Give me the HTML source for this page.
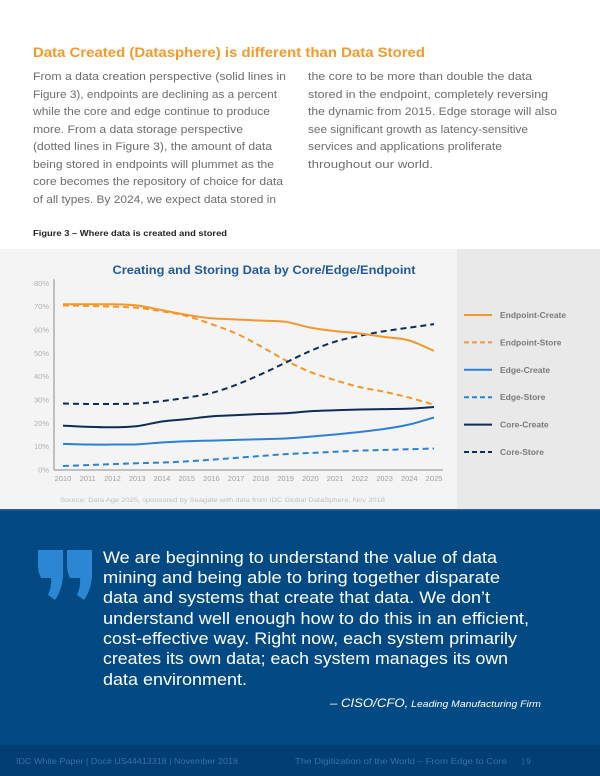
<!DOCTYPE html>
<html><head><meta charset="utf-8"><style>
html,body{margin:0;padding:0;background:#fff;}
svg{display:block;}
text{font-family:"Liberation Sans",Arial,sans-serif;}
</style></head><body>
<svg width="600" height="776" viewBox="0 0 600 776" xmlns="http://www.w3.org/2000/svg">
<rect x="0" y="0" width="600" height="776" fill="#ffffff"/>
<text x="33" y="57" font-size="14" font-weight="bold" fill="#f39a2c" textLength="392" lengthAdjust="spacingAndGlyphs">Data Created (Datasphere) is different than Data Stored</text>
<g font-size="11" fill="#6d6d6d">
<text x="33" y="80" textLength="253" lengthAdjust="spacingAndGlyphs">From a data creation perspective (solid lines in</text>
<text x="33" y="98" textLength="244" lengthAdjust="spacingAndGlyphs">Figure 3), endpoints are declining as a percent</text>
<text x="33" y="115" textLength="237" lengthAdjust="spacingAndGlyphs">while the core and edge continue to produce</text>
<text x="33" y="133" textLength="210" lengthAdjust="spacingAndGlyphs">more. From a data storage perspective</text>
<text x="33" y="150" textLength="239" lengthAdjust="spacingAndGlyphs">(dotted lines in Figure 3), the amount of data</text>
<text x="33" y="168" textLength="241" lengthAdjust="spacingAndGlyphs">being stored in endpoints will plummet as the</text>
<text x="33" y="185" textLength="250" lengthAdjust="spacingAndGlyphs">core becomes the repository of choice for data</text>
<text x="33" y="203" textLength="243" lengthAdjust="spacingAndGlyphs">of all types. By 2024, we expect data stored in</text>
<text x="308" y="80" textLength="224" lengthAdjust="spacingAndGlyphs">the core to be more than double the data</text>
<text x="308" y="98" textLength="240" lengthAdjust="spacingAndGlyphs">stored in the endpoint, completely reversing</text>
<text x="308" y="115" textLength="249" lengthAdjust="spacingAndGlyphs">the dynamic from 2015. Edge storage will also</text>
<text x="308" y="133" textLength="220" lengthAdjust="spacingAndGlyphs">see significant growth as latency-sensitive</text>
<text x="308" y="150" textLength="194" lengthAdjust="spacingAndGlyphs">services and applications proliferate</text>
<text x="308" y="168" textLength="125" lengthAdjust="spacingAndGlyphs">throughout our world.</text>
</g>
<text x="33" y="236" font-size="8" font-weight="bold" fill="#222" textLength="194" lengthAdjust="spacingAndGlyphs">Figure 3 – Where data is created and stored</text>

<rect x="0" y="249" width="457" height="260" fill="#f4f4f4"/>
<rect x="457" y="249" width="143" height="260" fill="#e9e9e9"/>
<text x="264" y="274" text-anchor="middle" font-size="12" font-weight="bold" fill="#1f5a9a" textLength="303" lengthAdjust="spacingAndGlyphs">Creating and Storing Data by Core/Edge/Endpoint</text>
<g id="chart"></g>
<text x="60" y="502" font-size="6.5" fill="#c0c0c0" textLength="325" lengthAdjust="spacingAndGlyphs">Source: Data Age 2025, sponsored by Seagate with data from IDC Global DataSphere, Nov 2018</text>

<rect x="0" y="509" width="600" height="236" fill="#034a85"/>
<rect x="0" y="509" width="600" height="1.5" fill="#2a5f95"/>
<g fill="#2b87d3">
<path d="M38 550 H63 V576 Q62 590 55 600 L48 595 Q52 586 51 578 H41 Q38 572 38 565 Z"/>
<path d="M67 550 H92 V576 Q91 590 84 600 L77 595 Q81 586 80 578 H70 Q67 572 67 565 Z"/>
</g>
<g font-size="16.5" fill="#ffffff">
<text x="103" y="563" textLength="394" lengthAdjust="spacingAndGlyphs">We are beginning to understand the value of data</text>
<text x="103" y="583" textLength="397" lengthAdjust="spacingAndGlyphs">mining and being able to bring together disparate</text>
<text x="103" y="603" textLength="387" lengthAdjust="spacingAndGlyphs">data and systems that create that data. We don’t</text>
<text x="103" y="624" textLength="426" lengthAdjust="spacingAndGlyphs">understand well enough how to do this in an efficient,</text>
<text x="103" y="644" textLength="414" lengthAdjust="spacingAndGlyphs">cost-effective way. Right now, each system primarily</text>
<text x="103" y="664" textLength="405" lengthAdjust="spacingAndGlyphs">creates its own data; each system manages its own</text>
<text x="103" y="685" textLength="144" lengthAdjust="spacingAndGlyphs">data environment.</text>
</g>
<text x="330" y="707" font-style="italic" fill="#ffffff" textLength="211" lengthAdjust="spacingAndGlyphs"><tspan font-size="12">– CISO/CFO,</tspan><tspan font-size="9.5"> Leading Manufacturing Firm</tspan></text>

<rect x="0" y="745" width="600" height="31" fill="#003e74"/>
<g font-size="8" fill="#3a6fa8">
<text x="16" y="764" textLength="222" lengthAdjust="spacingAndGlyphs">IDC White Paper  |  Doc# US44413318  |  November 2018</text>
<text x="295" y="764" textLength="212" lengthAdjust="spacingAndGlyphs">The Digitization of the World – From Edge to Core</text>
<text x="522" y="764">|   9</text>
</g>
</svg>
<script>
const years = [2010,2011,2012,2013,2014,2015,2016,2017,2018,2019,2020,2021,2022,2023,2024,2025];
const yTicks = [0,10,20,30,40,50,60,70,80];
const endpointCreate = [71,71,71,70.5,68.5,66.5,65,64.5,64,63.5,61,59.5,58.5,57,55.5,51];
const endpointStore = [70.5,70.3,70,69.5,68,66,62.5,58.5,53,47,42,38.5,35.5,33.5,31,28];
const edgeCreate = [11.2,10.9,10.9,11,11.8,12.3,12.6,12.9,13.2,13.5,14.3,15.2,16.3,17.6,19.5,22.5];
const edgeStore = [1.7,2.1,2.5,2.9,3.2,3.7,4.4,5.2,6,6.8,7.3,7.8,8.3,8.6,8.9,9.2];
const coreCreate = [19,18.5,18.3,18.8,20.8,21.8,23,23.5,24,24.3,25.2,25.6,25.9,26.1,26.3,27];
const coreStore = [28.5,28.3,28.3,28.5,29.5,31,33,36.5,41,46,51,55,57.5,59.5,61,62.5];
const seriesNames = ["Endpoint-Create","Endpoint-Store","Edge-Create","Edge-Store","Core-Create","Core-Store"];

const NS="http://www.w3.org/2000/svg";
const g=document.getElementById('chart');
const x0=63,x1=434,y0=470,y1=283.3;
const xs=i=>x0+(x1-x0)*i/(years.length-1);
const ys=v=>y0-(y0-y1)*v/80;
function mk(t,a){const e=document.createElementNS(NS,t);for(const k in a)e.setAttribute(k,a[k]);g.appendChild(e);return e;}
let ax=mk('line',{x1:54,y1:y1-4,x2:54,y2:y0,stroke:'#8a8a8a','stroke-width':1});


ax=mk('line',{x1:54,y1:y0,x2:443,y2:y0,stroke:'#8a8a8a','stroke-width':1});


yTicks.forEach(v=>{const t=mk('text',{x:49,y:ys(v)+2.5,'text-anchor':'end','font-size':7.5,fill:'#b0b0b0'});t.textContent=v+'%';

});
years.forEach((y,i)=>{const t=mk('text',{x:xs(i),y:481,'text-anchor':'middle','font-size':7.5,fill:'#a0a0a0'});t.textContent=y;

});
function path(vals){const p=vals.map((v,i)=>[xs(i),ys(v)]);let d='M'+p[0][0]+' '+p[0][1];
for(let i=0;i<p.length-1;i++){const a=p[i-1]||p[i],b=p[i],c=p[i+1],e=p[i+2]||c;
d+=` C${b[0]+(c[0]-a[0])/6} ${b[1]+(c[1]-a[1])/6} ${c[0]-(e[0]-b[0])/6} ${c[1]-(e[1]-b[1])/6} ${c[0]} ${c[1]}`;}return d;}
const defs=[[endpointStore,'#f5962b',true],[edgeStore,'#2b82d3',true],[edgeCreate,'#2b82d3',false],[coreCreate,'#0d2d55',false],[coreStore,'#0d2d55',true],[endpointCreate,'#f5962b',false]];
const names=['endpoint-store-line','edge-store-line','edge-create-line','core-create-line','core-store-line','endpoint-create-line'];
defs.forEach((s,k)=>{const a={d:path(s[0]),fill:'none',stroke:s[1],'stroke-width':2};if(s[2])a['stroke-dasharray']='6 4';
const e=mk('path',a);

});
const leg=[['#f5962b',false],['#f5962b',true],['#2b82d3',false],['#2b82d3',true],['#0d2d55',false],['#0d2d55',true]];
seriesNames.forEach((n,i)=>{const y=315+i*27.4;const a={x1:464,y1:y,x2:492,y2:y,stroke:leg[i][0],'stroke-width':2};if(leg[i][1])a['stroke-dasharray']='5 3';
const l=mk('line',a);


const t=mk('text',{x:500,y:y+3,'font-size':8.5,'font-weight':'bold',fill:'#7a7a7a'});t.textContent=n;

});
</script>
</body></html>
